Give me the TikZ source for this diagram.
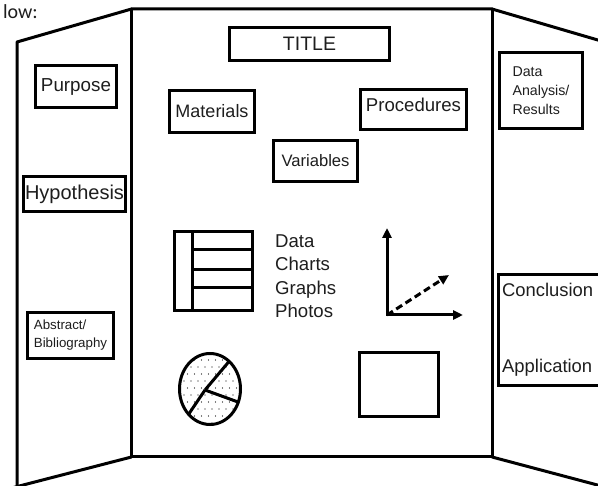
\documentclass[tikz,border=0pt]{standalone}
\usepackage{fontspec}
\setmainfont{Liberation Sans}
\newfontfamily\notefont{Carlito}
\usepackage{xcolor}
\usepackage{tikz}
\usetikzlibrary{arrows.meta,positioning,calc}
\definecolor{bg}{HTML}{FFFFFF}
\definecolor{ink}{HTML}{000000}
\definecolor{txt}{HTML}{1E1E1E}
\tikzset{
  board/.style={draw=ink, line width=3pt, line cap=round, line join=round},
  box/.style={draw=ink, line width=3pt, inner sep=0pt, text=txt},
  icon/.style={draw=ink, line width=3pt},
  lab/.style={text=txt, inner sep=0pt, font=\fontsize{#1}{#1}\selectfont},
  lab/.default=18,
  axisarrow/.style={-{Triangle[length=10pt,width=9pt]}},
}

\begin{document}
\begin{tikzpicture}[x=1pt,y=-1pt]
\useasboundingbox[fill=bg] (0,0) rectangle (598,486);

% the three panels of the board
\draw[board] (17,492) -- (17,42) -- (131.5,9) -- (492,9) -- (620,46.5);
\draw[board] (131.5,9) -- (131.5,457) -- (492,457) -- (492,9);
\draw[board] (131.5,457) -- (0,491);
\draw[board] (492,457) -- (620,491);

\node[lab=20, font=\notefont\fontsize{20}{20}\selectfont, anchor=base east] (note) at (38,19) {low:};

% centre panel
\node[box, lab=19.5, minimum width=160pt, minimum height=33pt] (title) at (309.5,44) {TITLE};
\node[box, lab=18, minimum width=85pt, minimum height=42pt] (materials) at (212,111.5) {Materials};
\node[box, lab=18.6, text depth=9pt, minimum width=106pt, minimum height=40pt] (procedures) at (413.5,109.5) {Procedures};
\node[box, lab=16.6, minimum width=84pt, minimum height=41pt] (variables) at (315.5,161) {Variables};

\node[lab, font=\fontsize{18.6}{23.5}\selectfont, align=left, anchor=west] (media) at (275,276) {Data\\Charts\\Graphs\\Photos};

% table
\draw[icon] (174,232) rectangle (252,311);
\draw[icon] (192,232) -- (192,311);
\foreach \y in {250,270,288}
  \draw[icon] (192,\y) -- (252,\y);

% axes
\coordinate (orig) at (387,315);
\draw[icon, {Triangle[length=10pt,width=9pt]}-{Triangle[length=10pt,width=9pt]}] (387,228) -- (orig) -- (463,315);
\draw[icon, axisarrow, dash pattern=on 7pt off 4pt] (orig) -- (449,275);

% pie chart
\coordinate (pie) at (210,389);
\coordinate (hub) at (205,390);
\begin{scope}
  \clip (pie) ellipse [x radius=30.5, y radius=35.5];
  \foreach \r in {0,...,11}
    \foreach \c in {0,...,9}
      \fill[ink] ({177+7*\c+3.5*mod(\r,2)},{353+7*\r}) circle (0.7);
  \draw[icon] (hub) -- (245,342.5);
  \draw[icon] (hub) -- (178,430);
  \draw[icon] (hub) -- (260,410);
\end{scope}
\draw[icon] (pie) ellipse [x radius=30.5, y radius=35.5];

% photo
\draw[icon] (359,353) rectangle (438,417);

% left panel
\node[box, lab=18.8, minimum width=81pt, minimum height=42pt] (purpose) at (76,86.5) {Purpose};
\node[box, lab=20, minimum width=102pt, minimum height=35pt] (hypothesis) at (74.5,194) {Hypothesis};
\node[box, lab, font=\fontsize{13.3}{18}\selectfont, align=left, minimum width=86pt, minimum height=46pt] (refs) at (70.5,335.5) {Abstract/\\Bibliography};

% right panel
\node[box, lab, font=\fontsize{14.2}{19}\selectfont, align=left, minimum width=83pt, minimum height=76pt] (results) at (541,90.5) {Data\\Analysis/\\Results};
\node[box, minimum width=130pt, minimum height=111pt, anchor=north west] (concl) at (497,273) {};
\node[lab=18.4, anchor=base west] (conclusion) at (502,297) {Conclusion};
\node[lab=18.4, anchor=base west] (application) at (502,373) {Application};
\end{tikzpicture}
\end{document}
